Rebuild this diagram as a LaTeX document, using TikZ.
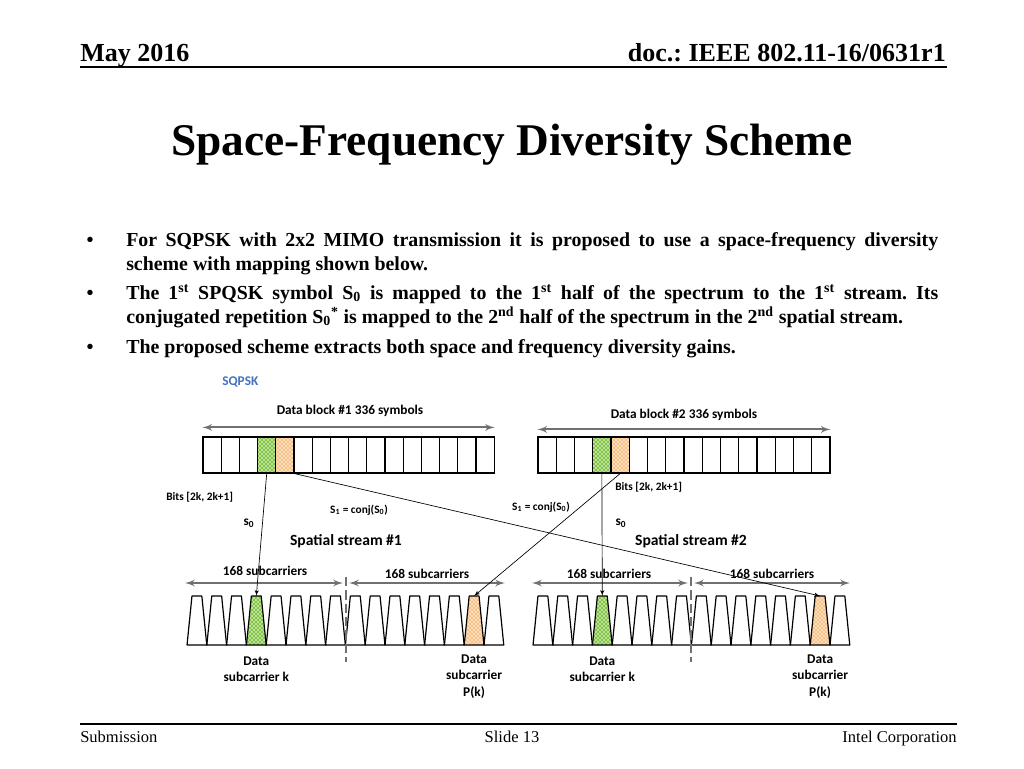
\documentclass[tikz,border=0pt]{standalone}
\usepackage{fontspec}
\setmainfont{Liberation Serif}
\newfontfamily\carlito{Carlito}
\usepackage{tikz}
\usetikzlibrary{shapes,arrows}
\usetikzlibrary{positioning}
\usetikzlibrary{patterns}
\frenchspacing
\definecolor{sqblue}{RGB}{68,114,196}
\definecolor{spangrey}{RGB}{112,112,112}
\definecolor{kgreen}{RGB}{128,192,64}
\definecolor{kline}{RGB}{200,235,170}
\definecolor{porange}{RGB}{247,192,130}
\definecolor{pline}{RGB}{253,228,200}
\tikzstyle{cell} = [draw, rectangle, line width=0.9pt, inner sep=0pt,
minimum width=18.2*0.75pt, minimum height=36*0.75pt]
\tikzstyle{carrier} = [draw, line width=0.9pt, line join=round]
\tikzstyle{span} = [draw, latex'-latex', line width=1.5pt, color=spangrey]
\tikzstyle{mapline} = [draw, -latex', line width=0.5pt]
\tikzstyle{divider} = [draw, line width=1.2pt, color=spangrey, dash pattern=on 7pt off 3pt]
\tikzstyle{lbl} = [inner sep=0pt, font=\carlito\bfseries\fontsize{10}{12.5}\selectfont]

\begin{document}
\begin{tikzpicture}[x=0.75pt, y=-0.75pt,
	plain/.style={},
	kfill/.style={preaction={fill=kgreen},
		preaction={pattern=north east lines, pattern color=kline},
		pattern=north west lines, pattern color=kline},
	pfill/.style={preaction={fill=porange},
		preaction={pattern=north east lines, pattern color=pline},
		pattern=north west lines, pattern color=pline},
	hdr/.style={inner sep=0pt, font=\bfseries\fontsize{19.5}{23}\selectfont},
	foot/.style={inner sep=0pt, font=\fontsize{12.4}{15}\selectfont},
	bullettext/.style={inner sep=0pt, text width=609pt, align=justify,
		font=\bfseries\fontsize{14.9}{18}\selectfont}]
	\useasboundingbox (0,0) rectangle (1024,768);
	\fill[white] (0,0) rectangle (1024,768);
	%% Slide frame
	\node[hdr, anchor=base west] (date) at (80,61) {May 2016};
	\node[hdr, anchor=base east] (docid) at (946,61) {doc.: IEEE 802.11-16/0631r1};
	\draw[line width=1.3pt] (80,67) -- (947,67);
	\node[inner sep=0pt, anchor=base, font=\bfseries\fontsize{34}{40}\selectfont] (title) at (512,155) {Space-Frequency Diversity Scheme};
	\node[bullettext, anchor=base west] (p1) at (126,246) {For SQPSK with 2x2 MIMO transmission it is proposed to use a space-frequency diversity\linebreak scheme with mapping shown below.};
	\node[bullettext, anchor=base west] (p2) at (126,299) {The 1\textsuperscript{st} SPQSK symbol S\textsubscript{0} is mapped to the 1\textsuperscript{st} half of the spectrum to the 1\textsuperscript{st} stream. Its\linebreak conjugated repetition S\textsubscript{0}\textsuperscript{*} is mapped to the 2\textsuperscript{nd} half of the spectrum in the 2\textsuperscript{nd} spatial stream.};
	\node[bullettext, anchor=base west] (p3) at (126,353) {The proposed scheme extracts both space and frequency diversity gains.};
	\foreach \y/\n in {246/1,299/2,353/3}
		\node[inner sep=0pt, anchor=base, font=\bfseries\fontsize{14.9}{18}\selectfont] (dot\n) at (90,\y) {•};
	\draw[line width=0.8pt] (80,724) -- (957,724);
	\node[foot, anchor=base west] (sub) at (80,742) {Submission};
	\node[foot, anchor=base] (slide) at (512,742) {Slide 13};
	\node[foot, anchor=base east] (corp) at (957,742) {Intel Corporation};
	%% Data blocks
	\node[lbl, anchor=west, text=sqblue] (sqpsk) at (222,382) {SQPSK};
	\foreach \i in {0,...,15} {
		\ifnum\i=3 \def\f{kfill}\else\ifnum\i=4 \def\f{pfill}\else\def\f{plain}\fi\fi
		\node[cell, \f] (b1c\i) at ({212.1+18.2*\i},455) {};
		\node[cell, \f] (b2c\i) at ({547.1+18.25*\i},455) {};
	}
	\path[span] ([yshift=6.75pt]b1c0.north west) -- ([yshift=6.75pt]b1c15.north east);
	\path[span] ([yshift=5.25pt]b2c0.north west) -- ([yshift=5.25pt]b2c15.north east);
	\node[lbl] (blk1) at (350,411) {Data block \#1 336 symbols};
	\node[lbl] (blk2) at (684,415) {Data block \#2 336 symbols};
	%% Subcarriers
	\foreach \i in {0,...,15} {
		\ifnum\i=3 \def\f{kfill}\else\ifnum\i=14 \def\f{pfill}\else\def\f{plain}\fi\fi
		\foreach \s/\x in {1/196.9,2/542.9} {
			\coordinate (s\s t\i) at ({\x+19.8*\i},596);
			\coordinate (s\s b\i) at ({\x+19.8*\i},645);
			\path[carrier, \f] ([xshift=-7.4pt]s\s b\i) -- ([xshift=-3.7pt]s\s t\i)
				-- ([xshift=3.7pt]s\s t\i) -- ([xshift=7.4pt]s\s b\i) -- cycle;
		}
	}
	\coordinate (s1l) at (185,583);
	\coordinate (s1m) at (346,583);
	\coordinate (s1r) at (505,583);
	\coordinate (s2l) at (532,583);
	\coordinate (s2m) at (691,583);
	\coordinate (s2r) at (850,583);
	\path[span] (s1l) -- ([xshift=-2.25pt]s1m);
	\path[span] ([xshift=2.25pt]s1m) -- (s1r);
	\path[span] (s2l) -- ([xshift=-2.25pt]s2m);
	\path[span] ([xshift=2.25pt]s2m) -- (s2r);
	\path[divider] ([yshift=4.5pt]s1m) -- ++(0,85);
	\path[divider] ([yshift=4.5pt]s2m) -- ++(0,85);
	\node[lbl] (n1) at (265,571) {168 subcarriers};
	\node[lbl] (n2) at (427,574) {168 subcarriers};
	\node[lbl] (n3) at (609,574) {168 subcarriers};
	\node[lbl] (n4) at (772,574) {168 subcarriers};
	\node[lbl, align=center, below=8.5pt of s1b3] (k1) {Data\\subcarrier k};
	\node[lbl, align=center, below=7pt of s1b14] (pk1) {Data\\subcarrier\\P(k)};
	\node[lbl, align=center, below=8.5pt of s2b3] (k2) {Data\\subcarrier k};
	\node[lbl, align=center, below=7pt of s2b14] (pk2) {Data\\subcarrier\\P(k)};
	%% Stream labels
	\node[lbl, anchor=west, font=\carlito\bfseries\fontsize{8.5}{10}\selectfont] (bits1) at (166,497) {Bits [2k, 2k+1]};
	\node[lbl, anchor=west, font=\carlito\bfseries\fontsize{8.5}{10}\selectfont] (bits2) at (615,487) {Bits [2k, 2k+1]};
	\node[lbl, font=\carlito\bfseries\fontsize{8.5}{10}\selectfont] (cj1) at (359,510) {S\textsubscript{1} = conj(S\textsubscript{0})};
	\node[lbl, font=\carlito\bfseries\fontsize{8.5}{10}\selectfont] (cj2) at (541,507) {S\textsubscript{1} = conj(S\textsubscript{0})};
	\node[lbl] (s01) at (249,523) {s\textsubscript{0}};
	\node[lbl] (s02) at (621,523) {s\textsubscript{0}};
	\node[lbl, font=\carlito\bfseries\fontsize{11.7}{14}\selectfont] (st1) at (346,541) {Spatial stream \#1};
	\node[lbl, font=\carlito\bfseries\fontsize{11.7}{14}\selectfont] (st2) at (691,541) {Spatial stream \#2};
	%% Mapping
	\path[mapline] (b1c3.south) -- (s1t3);
	\path[mapline] (b1c4.south east) -- (s2t14);
	\path[mapline] (b2c4.south) -- (s1t14);
	\path[mapline] (b2c3.south) -- (s2t3);
\end{tikzpicture}
\end{document}
